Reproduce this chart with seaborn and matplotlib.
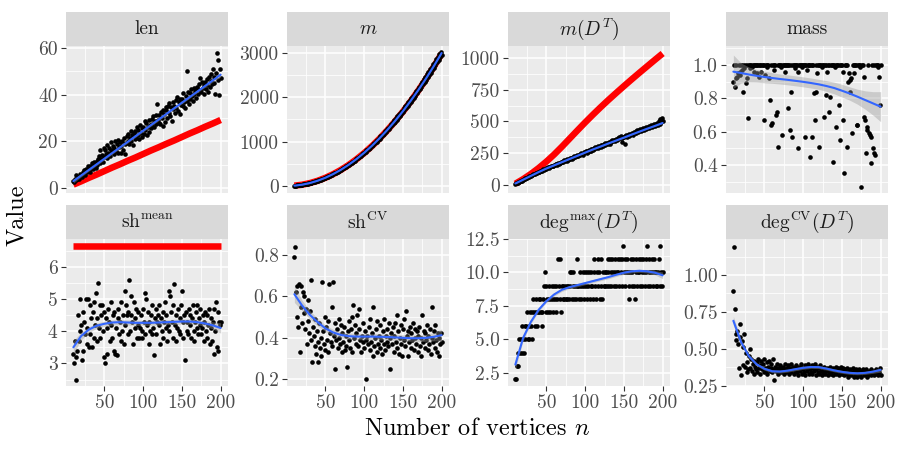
import matplotlib
matplotlib.use("Agg")
import matplotlib.pyplot as plt
import numpy as np
import seaborn as sns
from matplotlib.ticker import FixedLocator

# x values of the scatter and of the fitted / reference curves
n_vertices = list(range(10, 201))
n_curve = list(range(10, 201, 10))

# ---- len ----
len_points = [
    3.2, 2.5, 4.1, 3.6, 5.8, 4.0, 4.9, 3.9, 6.1, 5.0,
    5.7, 4.6, 6.9, 6.2, 7.8, 5.5, 8.4, 6.8, 7.2, 9.5,
    8.1, 7.0, 9.6, 8.5, 10.9, 8.0, 9.3, 11.4, 9.9, 8.8,
    11.8, 10.0, 12.6, 13.9, 10.8, 16.5, 12.3, 14.0, 11.2, 17.4,
    13.5, 16.2, 14.8, 12.9, 18.5, 15.1, 17.0, 13.8, 16.4, 19.6,
    15.5, 18.2, 14.6, 17.3, 20.1, 16.0, 18.9, 15.2, 20.8, 17.5,
    19.8, 15.0, 18.0, 20.4, 16.5, 21.6, 18.7, 14.8, 19.5, 22.5,
    20.3, 23.0, 19.0, 21.5, 24.4, 20.2, 22.9, 18.6, 23.8, 21.0,
    24.5, 21.4, 26.3, 22.8, 25.1, 20.9, 27.0, 23.7, 25.8, 22.0,
    26.4, 23.3, 28.6, 25.0, 27.7, 22.9, 26.1, 29.4, 24.2, 27.2,
    25.6, 29.8, 27.4, 30.9, 26.2, 28.8, 31.5, 27.5, 36.0, 29.3,
    28.0, 31.2, 27.6, 32.5, 30.0, 33.4, 26.5, 31.9, 28.4, 34.6,
    33.5, 30.2, 35.2, 32.1, 36.4, 31.0, 34.9, 28.7, 33.8, 37.1,
    35.0, 32.3, 37.6, 34.4, 39.0, 33.2, 36.8, 31.8, 38.2, 35.5,
    38.3, 35.0, 40.6, 36.9, 34.2, 39.5, 50.0, 37.3, 41.2, 36.1,
    40.8, 38.0, 42.5, 39.6, 37.2, 43.0, 40.4, 41.8, 38.5, 42.9,
    43.2, 40.5, 44.8, 42.0, 47.0, 41.2, 45.5, 43.0, 40.2, 44.3,
    45.6, 42.5, 46.8, 44.0, 41.4, 47.5, 43.3, 45.9, 49.0, 44.6,
    51.0, 45.0, 47.8, 40.5, 49.5, 58.0, 46.5, 55.0, 40.0, 51.0,
    47.0,
]
len_smooth = [3.0, 5.4, 7.8, 10.2, 12.6, 15.0, 17.4, 19.8, 22.2, 24.6,
              27.0, 29.4, 31.8, 34.2, 36.6, 39.0, 41.4, 43.8, 46.2, 48.6]
len_se = [0.9, 0.6, 0.5, 0.5, 0.5, 0.5, 0.5, 0.5, 0.5, 0.5,
          0.5, 0.5, 0.5, 0.5, 0.5, 0.5, 0.5, 0.6, 0.7, 1.0]
len_red = [1.5, 2.9, 4.4, 5.8, 7.3, 8.8, 10.2, 11.7, 13.1, 14.6,
           16.1, 17.5, 19.0, 20.4, 21.9, 23.4, 24.8, 26.3, 27.7, 29.2]

# ---- m ----
m_points = [
    7, 10, 11, 13, 14, 17, 20, 21, 24, 28,
    29, 34, 36, 40, 42, 48, 50, 55, 58, 64,
    67, 73, 76, 82, 86, 93, 96, 104, 107, 115,
    119, 127, 131, 140, 144, 153, 157, 167, 171, 182,
    186, 197, 201, 213, 216, 229, 233, 246, 249, 264,
    267, 282, 285, 301, 304, 320, 323, 340, 343, 361,
    364, 382, 385, 404, 406, 427, 429, 450, 451, 474,
    476, 498, 499, 523, 524, 548, 549, 574, 575, 601,
    601, 629, 628, 657, 656, 686, 684, 715, 713, 745,
    742, 776, 772, 807, 802, 840, 834, 871, 865, 905,
    898, 939, 931, 973, 964, 1008, 998, 1044, 1032, 1080,
    1068, 1117, 1104, 1155, 1140, 1194, 1178, 1234, 1215, 1275,
    1253, 1315, 1292, 1356, 1330, 1398, 1372, 1440, 1410, 1482,
    1452, 1526, 1494, 1570, 1536, 1614, 1578, 1658, 1620, 1703,
    1665, 1749, 1708, 1796, 1752, 1843, 1798, 1890, 1845, 1938,
    1892, 1988, 1940, 2038, 1988, 2088, 2038, 2138, 2088, 2190,
    2138, 2244, 2188, 2298, 2240, 2352, 2292, 2406, 2346, 2460,
    2398, 2516, 2452, 2572, 2506, 2628, 2560, 2684, 2616, 2742,
    2672, 2800, 2728, 2858, 2786, 2918, 2842, 2978, 2900, 3030,
    2960,
]
m_smooth = [8, 30, 67, 120, 187, 270, 367, 480, 607, 750,
            907, 1080, 1267, 1470, 1687, 1920, 2167, 2430, 2707, 3000]
m_se = [10] * 20
m_red = [7, 28, 65, 117, 184, 266, 362, 474, 601, 742,
         899, 1071, 1258, 1460, 1676, 1908, 2155, 2416, 2693, 2985]

# ---- m(D^T) ----
mdt_points = [
    9, 13, 15, 19, 22, 24, 28, 31, 33, 37,
    40, 45, 47, 52, 53, 58, 61, 63, 67, 70,
    74, 75, 80, 83, 84, 90, 92, 96, 97, 101,
    104, 106, 108, 114, 113, 117, 122, 121, 128, 126,
    133, 131, 139, 136, 144, 140, 149, 146, 152, 150,
    158, 154, 163, 166, 160, 172, 168, 176, 171, 181,
    182, 187, 179, 194, 190, 197, 186, 203, 199, 206,
    201, 212, 216, 208, 221, 214, 229, 219, 232, 225,
    236, 228, 240, 244, 233, 251, 246, 238, 257, 250,
    259, 264, 252, 270, 262, 276, 267, 281, 271, 285,
    278, 290, 284, 296, 288, 302, 293, 309, 298, 305,
    311, 300, 318, 309, 325, 316, 329, 320, 334, 323,
    331, 340, 326, 345, 337, 352, 343, 358, 349, 356,
    363, 354, 370, 360, 376, 366, 382, 371, 340, 379,
    380, 386, 322, 391, 378, 397, 385, 402, 390, 405,
    400, 411, 395, 419, 407, 424, 413, 429, 418, 432,
    425, 437, 428, 443, 431, 449, 436, 452, 441, 456,
    447, 459, 450, 466, 453, 470, 458, 474, 462, 479,
    468, 483, 472, 490, 476, 505, 481, 520, 495, 530,
    500,
]
mdt_smooth = [12, 42, 72, 102, 130, 155, 180, 205, 230, 255,
              280, 303, 327, 350, 373, 397, 420, 443, 465, 488]
mdt_se = [4] * 20
mdt_red = [10, 46, 87, 133, 184, 240, 301, 365, 429, 492,
           553, 612, 669, 724, 778, 831, 883, 934, 985, 1035]

# ---- mass ----
mass_points = [
    0.90, 1.0, 0.87, 0.92, 1.0, 0.93, 0.95, 1.0, 0.94, 0.96,
    1.0, 0.97, 1.0, 0.84, 0.98, 1.0, 0.89, 0.92, 1.0, 0.68,
    1.0, 0.98, 1.0, 1.0, 0.99, 1.0, 1.0, 0.96, 1.0, 1.0,
    0.95, 1.0, 1.0, 0.93, 1.0, 1.0, 0.96, 1.0, 1.0, 0.67,
    1.0, 0.94, 1.0, 1.0, 0.99, 1.0, 0.92, 0.79, 1.0, 0.64,
    0.65, 1.0, 1.0, 0.97, 1.0, 0.70, 0.72, 1.0, 0.51, 1.0,
    1.0, 0.99, 1.0, 0.58, 1.0, 1.0, 0.96, 1.0, 1.0, 1.0,
    0.74, 1.0, 1.0, 0.61, 1.0, 0.84, 0.57, 1.0, 1.0, 0.98,
    1.0, 1.0, 1.0, 0.96, 0.50, 1.0, 1.0, 1.0, 0.99, 1.0,
    1.0, 1.0, 0.57, 1.0, 1.0, 0.97, 1.0, 1.0, 1.0, 0.45,
    1.0, 1.0, 0.57, 1.0, 0.83, 0.67, 0.84, 1.0, 0.95, 1.0,
    1.0, 0.51, 1.0, 1.0, 0.99, 1.0, 1.0, 0.69, 1.0, 0.82,
    1.0, 0.96, 1.0, 0.72, 1.0, 0.81, 1.0, 1.0, 0.42, 1.0,
    1.0, 0.99, 1.0, 0.63, 1.0, 1.0, 0.76, 1.0, 0.55, 1.0,
    1.0, 0.96, 0.67, 0.35, 1.0, 1.0, 1.0, 0.51, 0.90, 0.95,
    0.91, 0.84, 0.92, 0.59, 1.0, 1.0, 0.95, 1.0, 1.0, 0.64,
    0.64, 1.0, 1.0, 1.0, 0.99, 0.27, 1.0, 1.0, 0.93, 0.69,
    0.67, 0.47, 0.63, 0.61, 1.0, 0.59, 0.58, 0.41, 0.57, 1.0,
    0.50, 1.0, 0.47, 0.46, 1.0, 1.0, 0.99, 1.0, 0.93, 0.76,
    1.0,
]
mass_smooth = [0.960, 0.952, 0.943, 0.935, 0.928, 0.922, 0.916, 0.911, 0.905, 0.899,
               0.892, 0.884, 0.874, 0.862, 0.846, 0.829, 0.810, 0.790, 0.770, 0.750]
mass_se = [0.100, 0.060, 0.045, 0.038, 0.035, 0.032, 0.030, 0.030, 0.030, 0.030,
           0.030, 0.030, 0.032, 0.035, 0.038, 0.040, 0.045, 0.055, 0.070, 0.090]

# ---- sh^mean ----
sh_mean_points = [
    3.3, 3.0, 3.7, 2.5, 3.2, 3.4, 4.5, 3.7, 5.0, 4.0,
    4.2, 3.1, 4.6, 3.4, 4.3, 3.9, 5.0, 3.6, 4.1, 5.0,
    3.5, 4.8, 3.9, 4.4, 3.5, 4.6, 4.9, 3.8, 4.2, 5.2,
    4.4, 3.7, 5.5, 4.1, 4.8, 3.8, 4.5, 4.8, 4.0, 3.2,
    4.6, 3.0, 4.4, 4.1, 3.3, 4.7, 4.3, 3.7, 4.9, 4.2,
    3.8, 4.5, 3.4, 4.6, 3.3, 4.1, 3.25, 4.7, 4.4, 3.9,
    4.3, 3.7, 4.9, 4.0, 4.5, 3.6, 5.25, 4.2, 4.8, 4.5,
    3.9, 4.6, 5.6, 4.0, 4.5, 5.1, 4.3, 3.6, 4.9, 4.1,
    4.4, 4.7, 3.8, 4.2, 4.6, 3.8, 4.1, 4.5, 4.0, 3.8,
    4.7, 4.3, 5.2, 3.9, 5.0, 4.2, 4.6, 3.6, 4.3, 4.0,
    4.5, 3.9, 4.8, 4.1, 3.25, 4.4, 4.7, 3.9, 4.3, 4.5,
    4.2, 4.8, 3.6, 4.4, 4.0, 4.6, 3.8, 4.3, 4.9, 4.1,
    4.5, 3.7, 4.2, 5.25, 4.0, 5.1, 4.6, 4.3, 3.8, 4.8,
    5.45, 4.2, 4.5, 3.7, 4.1, 4.7, 4.0, 4.4, 3.9, 4.8,
    5.25, 4.3, 3.8, 4.5, 3.1, 4.6, 4.0, 4.3, 3.9, 4.7,
    4.2, 4.5, 3.8, 4.4, 4.8, 4.0, 3.7, 4.3, 4.6, 4.1,
    4.8, 3.9, 4.4, 4.2, 4.7, 3.9, 4.1, 4.5, 3.7, 4.3,
    4.6, 4.0, 4.5, 3.8, 4.2, 4.7, 3.6, 4.4, 4.1, 3.7,
    4.3, 4.7, 3.3, 4.0, 4.9, 3.5, 4.6, 3.4, 4.3, 4.2,
    4.3,
]
sh_mean_smooth = [3.50, 3.85, 4.05, 4.17, 4.23, 4.27, 4.28, 4.27, 4.26, 4.26,
                  4.26, 4.27, 4.28, 4.29, 4.30, 4.30, 4.28, 4.24, 4.18, 4.10]
sh_mean_se = [0.20, 0.12, 0.09, 0.08, 0.08, 0.08, 0.08, 0.08, 0.08, 0.08,
              0.08, 0.08, 0.08, 0.08, 0.08, 0.08, 0.08, 0.09, 0.11, 0.16]
sh_mean_red = [6.65] * 20

# ---- sh^CV ----
sh_cv_points = [
    0.79, 0.84, 0.62, 0.50, 0.65, 0.45, 0.66, 0.33, 0.65, 0.55,
    0.47, 0.62, 0.52, 0.60, 0.44, 0.54, 0.37, 0.48, 0.58, 0.42,
    0.53, 0.68, 0.39, 0.28, 0.45, 0.41, 0.36, 0.49, 0.32, 0.43,
    0.38, 0.28, 0.47, 0.35, 0.40, 0.31, 0.67, 0.43, 0.37, 0.50,
    0.34, 0.45, 0.39, 0.48, 0.33, 0.66, 0.42, 0.38, 0.55, 0.36,
    0.67, 0.41, 0.47, 0.25, 0.39, 0.44, 0.35, 0.49, 0.40, 0.37,
    0.46, 0.33, 0.42, 0.38, 0.45, 0.34, 0.41, 0.36, 0.26, 0.43,
    0.39, 0.48, 0.35, 0.44, 0.50, 0.33, 0.56, 0.40, 0.46, 0.37,
    0.42, 0.51, 0.36, 0.44, 0.54, 0.39, 0.33, 0.41, 0.38, 0.47,
    0.35, 0.43, 0.39, 0.20, 0.41, 0.37, 0.45, 0.34, 0.49, 0.38,
    0.42, 0.31, 0.55, 0.36, 0.40, 0.44, 0.33, 0.48, 0.37, 0.41,
    0.35, 0.46, 0.39, 0.32, 0.43, 0.37, 0.49, 0.34, 0.41, 0.38,
    0.44, 0.36, 0.47, 0.40, 0.25, 0.42, 0.37, 0.45, 0.33, 0.41,
    0.47, 0.38, 0.51, 0.35, 0.43, 0.32, 0.40, 0.46, 0.37, 0.31,
    0.44, 0.39, 0.49, 0.36, 0.53, 0.41, 0.31, 0.43, 0.38, 0.45,
    0.35, 0.42, 0.39, 0.47, 0.34, 0.44, 0.40, 0.37, 0.43, 0.33,
    0.41, 0.45, 0.36, 0.40, 0.31, 0.51, 0.38, 0.43, 0.35, 0.42,
    0.39, 0.46, 0.34, 0.41, 0.37, 0.44, 0.32, 0.40, 0.55, 0.38,
    0.43, 0.35, 0.46, 0.39, 0.33, 0.42, 0.31, 0.40, 0.37, 0.42,
    0.38,
]
sh_cv_smooth = [0.610, 0.555, 0.510, 0.475, 0.445, 0.425, 0.413, 0.407, 0.405, 0.405,
                0.405, 0.404, 0.403, 0.401, 0.399, 0.397, 0.397, 0.399, 0.404, 0.412]
sh_cv_se = [0.040, 0.025, 0.020, 0.018, 0.016, 0.015, 0.015, 0.015, 0.015, 0.015,
            0.015, 0.015, 0.015, 0.015, 0.015, 0.015, 0.016, 0.017, 0.020, 0.030]

# ---- deg^max(D^T) ----
deg_max_points = [
    2, 2, 3, 4, 3, 5, 4, 5, 4, 6,
    5, 4, 6, 5, 6, 7, 5, 6, 5, 7,
    6, 7, 5, 8, 7, 6, 7, 8, 6, 7,
    8, 7, 8, 7, 6, 7, 8, 9, 10, 7,
    9, 8, 7, 9, 8, 7, 8, 9, 7, 8,
    9, 8, 7, 9, 8, 11, 9, 8, 11, 7,
    9, 8, 9, 8, 9, 8, 9, 8, 9, 8,
    10, 9, 10, 8, 9, 10, 8, 9, 8, 9,
    11, 9, 8, 10, 9, 8, 9, 10, 8, 9,
    10, 9, 8, 10, 9, 10, 8, 9, 10, 9,
    8, 11, 10, 9, 8, 10, 11, 9, 10, 8,
    11, 9, 8, 10, 9, 10, 9, 10, 9, 11,
    10, 9, 11, 10, 9, 11, 10, 9, 10, 11,
    9, 10, 11, 10, 9, 11, 10, 11, 9, 12,
    10, 11, 9, 10, 11, 10, 9, 8, 10, 11,
    9, 10, 11, 9, 8, 10, 11, 9, 10, 11,
    10, 9, 11, 10, 9, 11, 10, 9, 11, 10,
    12, 9, 10, 11, 9, 10, 11, 10, 9, 11,
    10, 9, 10, 9, 10, 11, 9, 12, 10, 9,
    10,
]
deg_max_smooth = [3.10, 5.10, 6.30, 7.20, 7.85, 8.35, 8.70, 8.90, 9.05, 9.20,
                  9.35, 9.50, 9.65, 9.82, 9.98, 10.08, 10.12, 10.08, 9.98, 9.78]
deg_max_se = [0.35, 0.20, 0.14, 0.12, 0.12, 0.12, 0.12, 0.12, 0.12, 0.12,
              0.12, 0.12, 0.12, 0.12, 0.12, 0.12, 0.12, 0.13, 0.16, 0.25]

# ---- deg^CV(D^T) ----
deg_cv_points = [
    0.89, 1.19, 0.77, 0.60, 0.56, 0.62, 0.53, 0.37, 0.58, 0.67,
    0.32, 0.55, 0.51, 0.39, 0.60, 0.38, 0.47, 0.34, 0.41, 0.36,
    0.45, 0.50, 0.37, 0.43, 0.35, 0.40, 0.33, 0.42, 0.38, 0.36,
    0.41, 0.34, 0.43, 0.37, 0.39, 0.33, 0.42, 0.36, 0.40, 0.34,
    0.43, 0.37, 0.35, 0.41, 0.33, 0.38, 0.42, 0.35, 0.37, 0.40,
    0.34, 0.43, 0.36, 0.29, 0.38, 0.35, 0.40, 0.33, 0.37, 0.35,
    0.39, 0.34, 0.37, 0.35, 0.38, 0.33, 0.36, 0.40, 0.34, 0.37,
    0.35, 0.39, 0.33, 0.37, 0.40, 0.34, 0.36, 0.38, 0.33, 0.37,
    0.35, 0.39, 0.34, 0.37, 0.32, 0.38, 0.35, 0.40, 0.33, 0.37,
    0.36, 0.34, 0.39, 0.32, 0.37, 0.35, 0.40, 0.33, 0.38, 0.36,
    0.34, 0.39, 0.33, 0.37, 0.35, 0.40, 0.32, 0.36, 0.38, 0.34,
    0.37, 0.33, 0.39, 0.35, 0.32, 0.37, 0.34, 0.38, 0.33, 0.36,
    0.35, 0.37, 0.32, 0.36, 0.34, 0.38, 0.33, 0.35, 0.37, 0.32,
    0.36, 0.34, 0.38, 0.33, 0.35, 0.37, 0.32, 0.36, 0.34, 0.38,
    0.33, 0.35, 0.37, 0.32, 0.36, 0.34, 0.33, 0.37, 0.31, 0.35,
    0.33, 0.36, 0.32, 0.34, 0.37, 0.31, 0.35, 0.33, 0.36, 0.31,
    0.34, 0.32, 0.36, 0.33, 0.35, 0.31, 0.34, 0.36, 0.32, 0.35,
    0.33, 0.36, 0.31, 0.34, 0.32, 0.35, 0.33, 0.36, 0.32, 0.34,
    0.33, 0.35, 0.32, 0.34, 0.36, 0.33, 0.35, 0.32, 0.34, 0.37,
    0.32,
]
deg_cv_smooth = [0.690, 0.545, 0.450, 0.395, 0.365, 0.348, 0.346, 0.352, 0.362, 0.371,
                 0.377, 0.376, 0.366, 0.354, 0.344, 0.337, 0.334, 0.337, 0.345, 0.357]
deg_cv_se = [0.030, 0.020, 0.013, 0.011, 0.010, 0.010, 0.010, 0.010, 0.010, 0.010,
             0.010, 0.010, 0.010, 0.010, 0.010, 0.010, 0.010, 0.010, 0.011, 0.015]

# facet titles and y scales (free per facet)
panels = [
    dict(title="len", pts=len_points, fit=len_smooth, se=len_se, ref=len_red,
         ylim=(-2.1, 60.9), yticks=[0, 20, 40, 60], ylabels=["0", "20", "40", "60"]),
    dict(title="$m$", pts=m_points, fit=m_smooth, se=m_se, ref=m_red,
         ylim=(-158, 3158), yticks=[0, 1000, 2000, 3000],
         ylabels=["0", "1000", "2000", "3000"]),
    dict(title="$m(D^T)$", pts=mdt_points, fit=mdt_smooth, se=mdt_se, ref=mdt_red,
         ylim=(-63, 1094), yticks=[0, 250, 500, 750, 1000],
         ylabels=["0", "250", "500", "750", "1000"]),
    dict(title="mass", pts=mass_points, fit=mass_smooth, se=mass_se, ref=None,
         ylim=(0.232, 1.114), yticks=[0.4, 0.6, 0.8, 1.0],
         ylabels=["0.4", "0.6", "0.8", "1.0"]),
    dict(title=r"$\mathrm{sh}^{\mathrm{mean}}$", pts=sh_mean_points, fit=sh_mean_smooth,
         se=sh_mean_se, ref=sh_mean_red,
         ylim=(2.30, 6.86), yticks=[3, 4, 5, 6], ylabels=["3", "4", "5", "6"]),
    dict(title=r"$\mathrm{sh}^{\mathrm{CV}}$", pts=sh_cv_points, fit=sh_cv_smooth,
         se=sh_cv_se, ref=None,
         ylim=(0.166, 0.877), yticks=[0.2, 0.4, 0.6, 0.8],
         ylabels=["0.2", "0.4", "0.6", "0.8"]),
    dict(title=r"$\deg^{\mathrm{max}}\!(D^T)$", pts=deg_max_points, fit=deg_max_smooth,
         se=deg_max_se, ref=None,
         ylim=(1.5, 12.5), yticks=[2.5, 5, 7.5, 10, 12.5],
         ylabels=["2.5", "5.0", "7.5", "10.0", "12.5"]),
    dict(title=r"$\deg^{\mathrm{CV}}\!(D^T)$", pts=deg_cv_points, fit=deg_cv_smooth,
         se=deg_cv_se, ref=None,
         ylim=(0.248, 1.244), yticks=[0.25, 0.5, 0.75, 1.0],
         ylabels=["0.25", "0.50", "0.75", "1.00"]),
]

x_ticks = [50, 100, 150, 200]
x_labels = ["50", "100", "150", "200"]

for p in panels:
    assert len(p["pts"]) == len(n_vertices), p["title"]

sns.set_theme(style="white", rc={"axes.facecolor": "#EBEBEB"})
plt.rcParams["font.family"] = ["cmr10", "DejaVu Serif"]
plt.rcParams["mathtext.fontset"] = "cm"
plt.rcParams["axes.formatter.use_mathtext"] = True

W, H = 900, 450
fig = plt.figure(figsize=(9, 4.5), dpi=100)

col_left = [66, 287, 508, 726]
panel_w = 162
row_strip_top = [12, 205]
strip_h = 34
panel_h = 147


def minor_between(ticks, lim):
    step = ticks[1] - ticks[0]
    ext = [ticks[0] - step] + list(ticks) + [ticks[-1] + step]
    mids = [(a + b) / 2 for a, b in zip(ext[:-1], ext[1:])]
    return [m for m in mids if lim[0] <= m <= lim[1]]


for i, p in enumerate(panels):
    row, col = divmod(i, 4)
    left = col_left[col] / W
    strip_top = row_strip_top[row]
    panel_top = strip_top + strip_h

    # strip
    sax = fig.add_axes([left, 1 - panel_top / H, panel_w / W, strip_h / H])
    sax.set_facecolor("#D9D9D9")
    sax.set_xticks([])
    sax.set_yticks([])
    for s in sax.spines.values():
        s.set_visible(False)
    sax.text(0.5, 0.5, p["title"], ha="center", va="center", fontsize=14,
             color="#1A1A1A", transform=sax.transAxes)

    # panel
    ax = fig.add_axes([left, 1 - (panel_top + panel_h) / H, panel_w / W, panel_h / H])
    ax.set_facecolor("#EBEBEB")
    for s in ax.spines.values():
        s.set_visible(False)

    if p["ref"] is not None:
        sns.lineplot(x=n_curve, y=p["ref"], color="#FF0000", linewidth=4.7,
                     solid_capstyle="butt", ax=ax, zorder=2)
    sns.scatterplot(x=n_vertices, y=p["pts"], color="black", s=11, linewidth=0,
                    ax=ax, zorder=3)
    fit = np.array(p["fit"])
    se = np.array(p["se"])
    ax.fill_between(n_curve, fit - se, fit + se, color="#999999", alpha=0.4,
                    linewidth=0, zorder=4)
    sns.lineplot(x=n_curve, y=p["fit"], color="#3366FF", linewidth=1.5, ax=ax,
                 zorder=5)

    ax.set_xlim(0.5, 209.5)
    ax.set_ylim(*p["ylim"])
    ax.set_xticks(x_ticks)
    ax.xaxis.set_minor_locator(FixedLocator([25, 75, 125, 175]))
    ax.set_yticks(p["yticks"])
    ax.set_yticklabels(p["ylabels"])
    ax.yaxis.set_minor_locator(FixedLocator(minor_between(p["yticks"], p["ylim"])))
    ax.grid(which="major", color="white", linewidth=1.1)
    ax.grid(which="minor", color="white", linewidth=0.55)
    ax.set_axisbelow(True)
    ax.set_xlabel("")
    ax.set_ylabel("")
    ax.tick_params(axis="y", which="major", length=3.5, width=0.8, color="#333333",
                   labelsize=14, labelcolor="#4D4D4D", pad=2.5, left=True)
    ax.tick_params(which="minor", length=0)
    if row == 1:
        ax.set_xticklabels(x_labels)
        ax.tick_params(axis="x", which="major", length=3.5, width=0.8,
                       color="#333333", labelsize=14, labelcolor="#4D4D4D",
                       pad=2.0, bottom=True)
    else:
        ax.tick_params(axis="x", which="major", length=0, labelbottom=False)

fig.text(477 / W, 1 - 435 / H, "Number of vertices $n$", ha="center",
         va="baseline", fontsize=17.5, color="black")
fig.text(17 / W, 1 - 215 / H, "Value", ha="center", va="center", rotation=90,
         fontsize=17.5, color="black")

fig.savefig("out.png", dpi=100)
